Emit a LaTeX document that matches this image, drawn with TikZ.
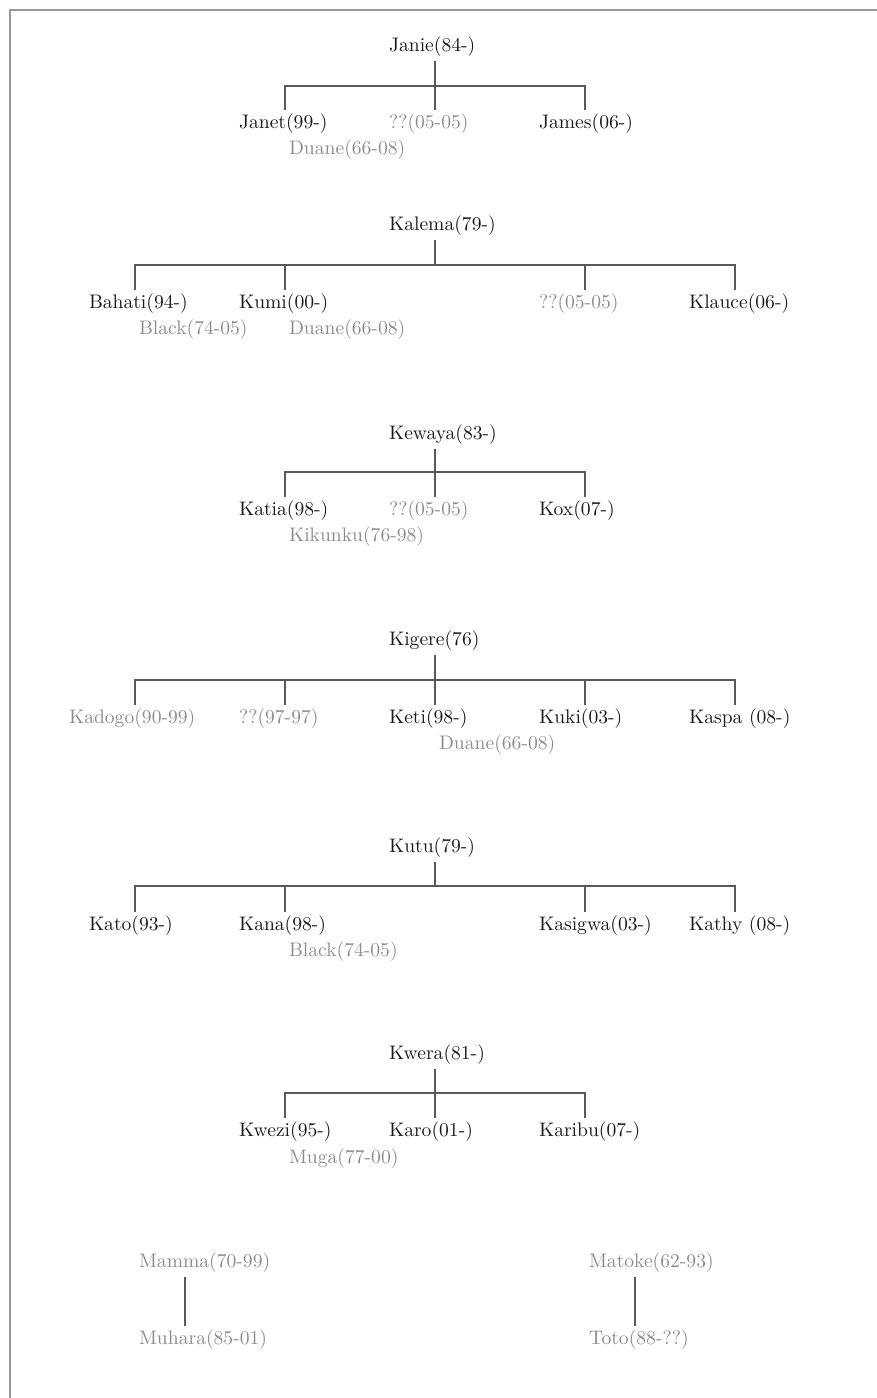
\documentclass[tikz,border=0pt]{standalone}
\begin{document}
\begin{tikzpicture}[x=0.5pt,y=-0.5pt,
    cellwd/.initial=46pt,
    person/.style={inner sep=0pt,outer sep=2pt,
      execute at begin node={\hbox to \pgfkeysvalueof{/tikz/cellwd}\bgroup},
      execute at end node={\hss\egroup},
      font=\fontsize{9.8}{11}\selectfont,text=black!90},
    gone/.style={person,text=black!45},
    link/.style={draw=black!65,line width=0.75pt},
    frame/.style={draw=black!40,line width=1.4pt}]
    \useasboundingbox (0,0) rectangle (877,1398);
    \draw[frame] (10,1398) -- (10,10) -- (877,10);

    % Janie
    \node (janie) at (435,47) [person] {Janie(84-)};
    \coordinate (janiebar) at (435,86);
    \node (janet) at (285,124) [person] {Janet(99-)};
    \node (janieq) at (435,124) [gone] {??(05-05)};
    \node (james) at (585,124) [person] {James(06-)};
    \node (duanea) at (335,150) [gone] {Duane(66-08)};

    \draw[link] (janie) -- (janiebar);
    \draw[link] (janet) |- (janiebar);
    \draw[link] (janieq) -- (janiebar);
    \draw[link] (james) |- (janiebar);

    % Kalema
    \node (kalema) at (435,226) [person] {Kalema(79-)};
    \coordinate (kalemabar) at (435,265);
    \node (bahati) at (135,304) [person] {Bahati(94-)};
    \node (kumi) at (285,304) [person] {Kumi(00-)};
    \node (kalemaq) at (585,304) [gone] {??(05-05)};
    \node (klauce) at (735,304) [person] {Klauce(06-)};
    \node (blacka) at (185,330) [gone] {Black(74-05)};
    \node (duaneb) at (335,330) [gone] {Duane(66-08)};

    \draw[link] (kalema) -- (kalemabar);
    \draw[link] (bahati) |- (kalemabar);
    \draw[link] (kumi) |- (kalemabar);
    \draw[link] (kalemaq) |- (kalemabar);
    \draw[link] (klauce) |- (kalemabar);

    % Kewaya
    \node (kewaya) at (435,435) [person] {Kewaya(83-)};
    \coordinate (kewayabar) at (435,472);
    \node (katia) at (285,511) [person] {Katia(98-)};
    \node (kewayaq) at (435,511) [gone] {??(05-05)};
    \node (kox) at (585,511) [person] {Kox(07-)};
    \node (kikunku) at (335,537) [gone] {Kikunku(76-98)};

    \draw[link] (kewaya) -- (kewayabar);
    \draw[link] (katia) |- (kewayabar);
    \draw[link] (kewayaq) -- (kewayabar);
    \draw[link] (kox) |- (kewayabar);

    % Kigere
    \node (kigere) at (435,641) [person] {Kigere(76)};
    \coordinate (kigerebar) at (435,680);
    \node (kadogo) at (135,719) [gone,cellwd=66pt] {Kadogo(90-99)};
    \node (kigereq) at (285,719) [gone] {??(97-97)};
    \node (keti) at (435,719) [person] {Keti(98-)};
    \node (kuki) at (585,719) [person] {Kuki(03-)};
    \node (kaspa) at (735,719) [person] {Kaspa (08-)};
    \node (duanec) at (485,745) [gone] {Duane(66-08)};

    \draw[link] (kigere) -- (kigerebar);
    \draw[link] (kadogo) |- (kigerebar);
    \draw[link] (kigereq) |- (kigerebar);
    \draw[link] (keti) -- (kigerebar);
    \draw[link] (kuki) |- (kigerebar);
    \draw[link] (kaspa) |- (kigerebar);

    % Kutu
    \node (kutu) at (435,848) [person] {Kutu(79-)};
    \coordinate (kutubar) at (435,886);
    \node (kato) at (135,926) [person] {Kato(93-)};
    \node (kana) at (285,926) [person] {Kana(98-)};
    \node (kasigwa) at (585,926) [person] {Kasigwa(03-)};
    \node (kathy) at (735,926) [person] {Kathy (08-)};
    \node (blackb) at (335,952) [gone] {Black(74-05)};

    \draw[link] (kutu) -- (kutubar);
    \draw[link] (kato) |- (kutubar);
    \draw[link] (kana) |- (kutubar);
    \draw[link] (kasigwa) |- (kutubar);
    \draw[link] (kathy) |- (kutubar);

    % Kwera
    \node (kwera) at (435,1055) [person] {Kwera(81-)};
    \coordinate (kwerabar) at (435,1093);
    \node (kwezi) at (285,1132) [person] {Kwezi(95-)};
    \node (karo) at (435,1132) [person] {Karo(01-)};
    \node (karibu) at (585,1132) [person] {Karibu(07-)};
    \node (muga) at (335,1159) [gone] {Muga(77-00)};

    \draw[link] (kwera) -- (kwerabar);
    \draw[link] (kwezi) |- (kwerabar);
    \draw[link] (karo) -- (kwerabar);
    \draw[link] (karibu) |- (kwerabar);

    % Mamma and Matoke
    \node (mamma) at (185,1263) [gone] {Mamma(70-99)};
    \node (muhara) at (185,1340) [gone] {Muhara(85-01)};
    \node (matoke) at (635,1263) [gone] {Matoke(62-93)};
    \node (toto) at (635,1340) [gone] {Toto(88-??)};

    \draw[link] (mamma) -- (muhara);
    \draw[link] (matoke) -- (toto);
\end{tikzpicture}
\end{document}
